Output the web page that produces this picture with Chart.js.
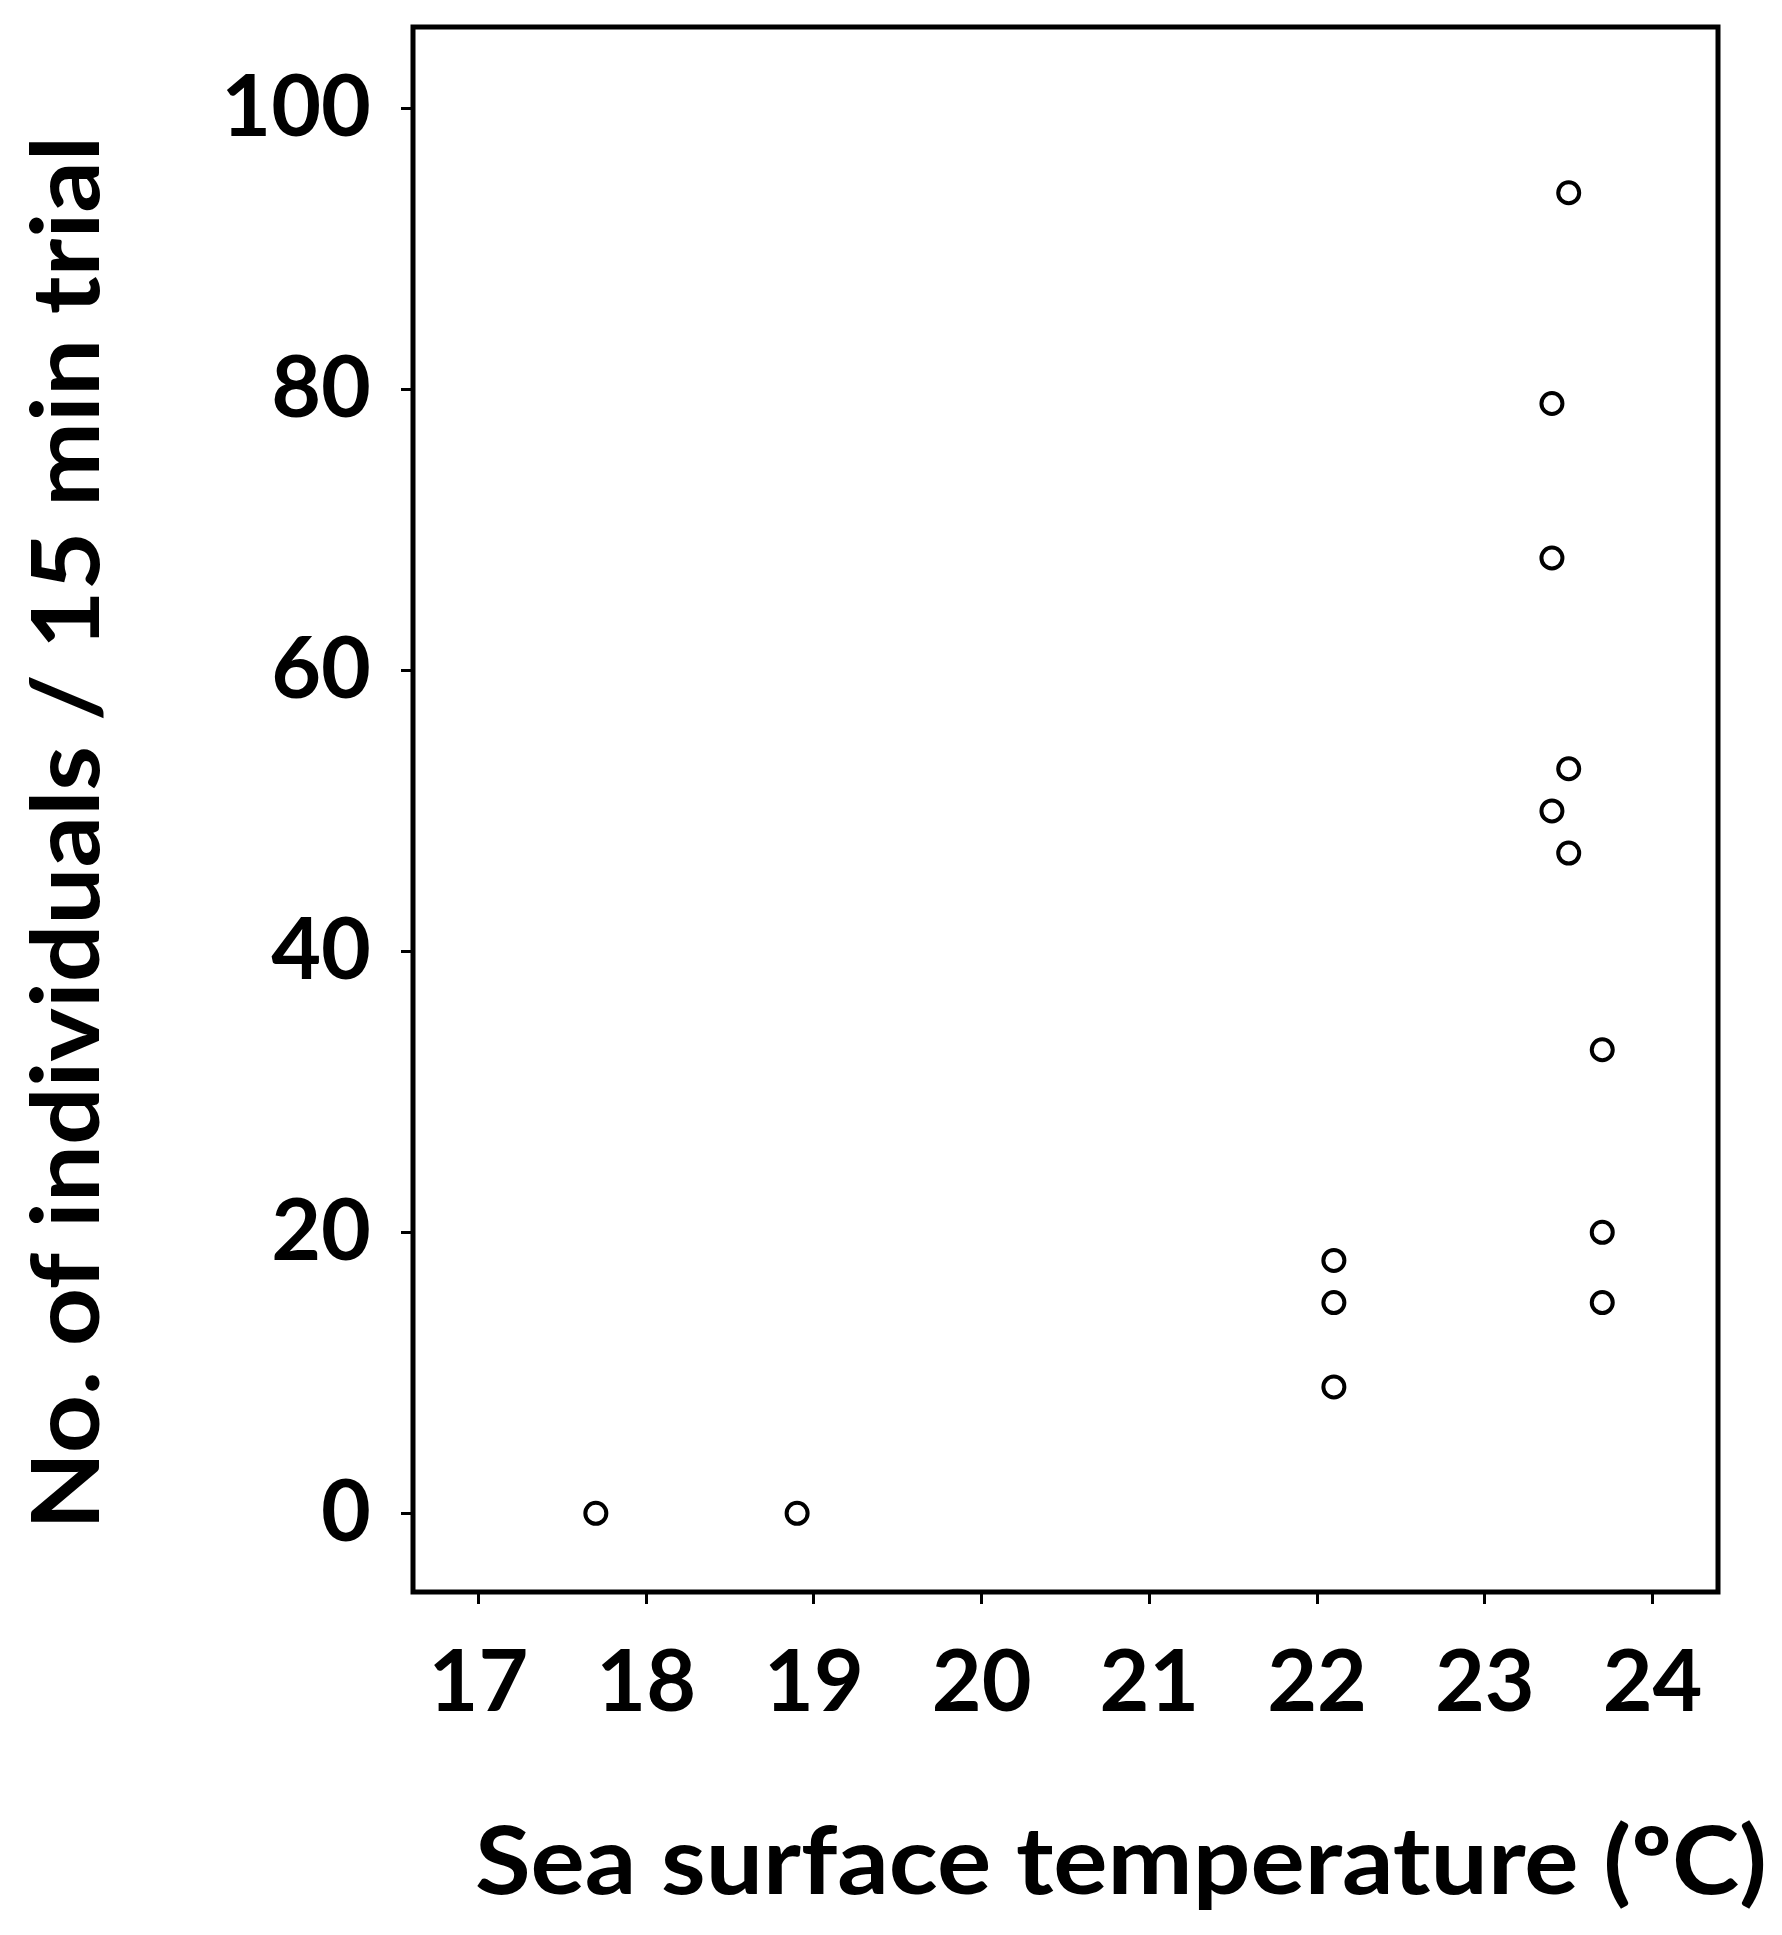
<!DOCTYPE html>
<html>
<head>
<meta charset="utf-8">
<script src="https://cdn.jsdelivr.net/npm/chart.js@4"></script>
<style>
  body { margin: 0; background: #fff; }
  #wrap { width: 1782px; height: 1935px; }
</style>
</head>
<body>
<div id="wrap"><canvas id="sst" width="1782" height="1935"></canvas></div>
<script>
// data
const temperature = [17.7, 18.9, 22.1, 22.1, 22.1, 23.5, 23.4, 23.4, 23.5, 23.4, 23.5, 23.7, 23.7, 23.7];
const individuals = [0, 0, 18, 15, 9, 94, 79, 68, 53, 50, 47, 33, 20, 15];
const xTicks = [17, 18, 19, 20, 21, 22, 23, 24];
const yTicks = [0, 20, 40, 60, 80, 100];
const xTitle = 'Sea surface temperature (ºC)';
const yTitle = 'No. of individuals / 15 min trial';

const fontFam = "Lato, 'Open Sans', sans-serif";

// title text squeezed/stretched a bit to the width it has in the original
function drawTitle(ctx, text, width) {
    const w = ctx.measureText(text).width;
    ctx.scale(width / w, 1);
    ctx.fillText(text, 0, 0);
}

// box round the plot area + axis titles
const frame = {
    id: 'frame',
    afterDraw(chart) {
        const { ctx, chartArea: { left, top, right, bottom } } = chart;
        ctx.save();
        ctx.strokeStyle = '#000';
        ctx.lineWidth = 5;
        ctx.strokeRect(left, top, right - left, bottom - top);

        ctx.fillStyle = '#000';
        ctx.font = 'bold 94px ' + fontFam;
        ctx.textAlign = 'center';
        ctx.textBaseline = 'alphabetic';

        ctx.save();
        ctx.translate(1121, 1894);
        drawTitle(ctx, xTitle, 1292);
        ctx.restore();

        ctx.save();
        ctx.translate(99, 833);
        ctx.rotate(-Math.PI / 2);
        drawTitle(ctx, yTitle, 1394);
        ctx.restore();
        ctx.restore();
    }
};

const pts = temperature.map((t, i) => ({ x: t, y: individuals[i] }));

new Chart(document.getElementById('sst'), {
    type: 'scatter',
    data: {
        datasets: [{
            data: pts,
            pointStyle: 'circle',
            pointRadius: 10.5,
            pointHoverRadius: 10.5,
            pointBorderWidth: 4,
            borderColor: '#000',
            backgroundColor: '#fff'
        }]
    },
    options: {
        responsive: false,
        animation: false,
        events: [],
        layout: { padding: { top: 27, right: 64, left: 0, bottom: 0 } },
        plugins: {
            legend: { display: false },
            tooltip: { enabled: false }
        },
        scales: {
            x: {
                type: 'linear',
                min: 16.61,
                max: 24.39,
                afterBuildTicks: (s) => { s.ticks = xTicks.map(v => ({ value: v })); },
                afterFit: (s) => { s.height = 343; s.paddingLeft = 0; s.paddingRight = 0; },
                border: { display: false },
                grid: { drawOnChartArea: false, drawTicks: true, tickLength: 12, color: '#000', lineWidth: 3 },
                ticks: {
                    color: '#000',
                    padding: 28,
                    maxRotation: 0,
                    font: { family: fontFam, size: 86, weight: 'bold' }
                }
            },
            y: {
                min: -5.6,
                max: 105.8,
                afterBuildTicks: (s) => { s.ticks = yTicks.map(v => ({ value: v })); },
                afterFit: (s) => { s.width = 413; s.paddingTop = 0; s.paddingBottom = 0; },
                border: { display: false },
                grid: { drawOnChartArea: false, drawTicks: true, tickLength: 12, color: '#000', lineWidth: 3 },
                ticks: {
                    color: '#000',
                    padding: 30,
                    font: { family: fontFam, size: 86, weight: 'bold' }
                }
            }
        }
    },
    plugins: [frame]
});
</script>
</body>
</html>
